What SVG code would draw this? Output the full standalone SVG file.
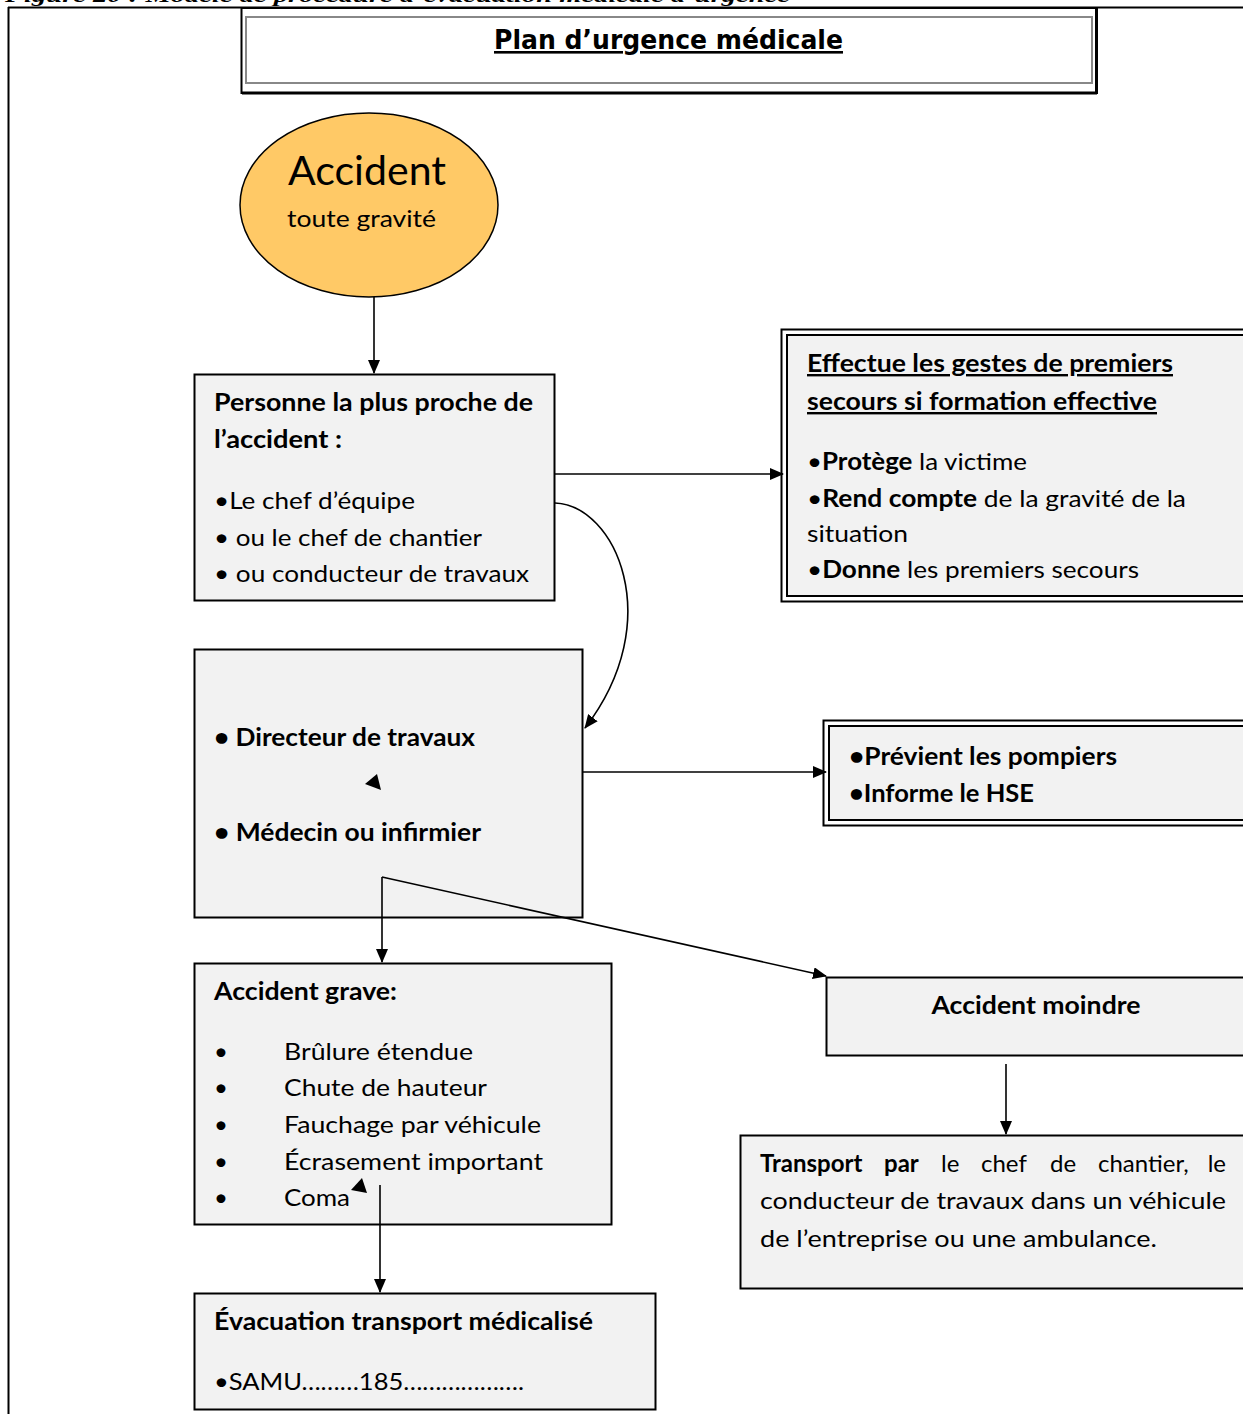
<svg xmlns="http://www.w3.org/2000/svg" width="1243" height="1414" viewBox="0 0 1243 1414">
<defs>
<style>
.t{font-family:Lato,"Open Sans","Liberation Sans",sans-serif;font-size:24px;fill:#000}
.b{font-weight:bold}
.box{fill:#f2f2f2;stroke:#000;stroke-width:2}
.ln{fill:none;stroke:#000;stroke-width:1.6}
</style>
<marker id="ah" markerWidth="14" markerHeight="12" refX="13" refY="6" orient="auto" markerUnits="userSpaceOnUse" viewBox="0 0 14 12">
<path d="M0,0 L14,6 L0,12 z" fill="#000"/>
</marker>
</defs>
<rect width="1243" height="1414" fill="#fff"/>
<text x="5" y="2" style="font-family:'Liberation Serif',serif;font-size:19px;font-weight:bold;font-style:italic" textLength="785" lengthAdjust="spacingAndGlyphs">Figure 20 : Modèle de procédure d’évacuation médicale d’urgence</text>
<g id="frame">
<line x1="8" y1="7.5" x2="1243" y2="7.5" stroke="#000" stroke-width="2"/>
<line x1="8.5" y1="7" x2="8.5" y2="1414" stroke="#000" stroke-width="2"/>
</g>
<g id="title">
<rect x="241.5" y="8" width="855" height="85" fill="#fff" stroke="#000" stroke-width="2"/>
<line x1="242" y1="93" x2="1097" y2="93" stroke="#000" stroke-width="3"/>
<line x1="1096.5" y1="8" x2="1096.5" y2="94" stroke="#000" stroke-width="3"/>
<rect x="246" y="17" width="846" height="66" fill="none" stroke="#888" stroke-width="2"/>
<text x="494" y="49" class="t b" style="font-family:'DejaVu Sans',sans-serif;font-size:26px;text-decoration:underline" textLength="349" lengthAdjust="spacingAndGlyphs">Plan d’urgence médicale</text>
</g>
<g id="accident">
<ellipse cx="369" cy="205" rx="129" ry="92" fill="#ffc966" stroke="#000" stroke-width="1.5"/>
<text x="288" y="185" class="t" style="font-size:40px" textLength="158" lengthAdjust="spacingAndGlyphs">Accident</text>
<text x="287" y="227" class="t" textLength="149" lengthAdjust="spacingAndGlyphs">toute gravité</text>
</g>
<g id="personne">
<rect class="box" x="194.5" y="374.5" width="360" height="226"/>
<text x="214" y="411" class="t b" textLength="319" lengthAdjust="spacingAndGlyphs">Personne la plus proche de</text>
<text x="214" y="448" class="t b" textLength="128" lengthAdjust="spacingAndGlyphs">l’accident :</text>
<text x="214" y="509" class="t" textLength="201" lengthAdjust="spacingAndGlyphs">•Le chef d’équipe</text>
<text x="214" y="546" class="t" textLength="268" lengthAdjust="spacingAndGlyphs">• ou le chef de chantier</text>
<text x="214" y="582" class="t" textLength="315" lengthAdjust="spacingAndGlyphs">• ou conducteur de travaux</text>
</g>
<g id="gestes">
<rect x="781.5" y="329.5" width="470" height="272" fill="#fff" stroke="#000" stroke-width="2"/>
<rect class="box" x="787" y="335" width="470" height="261"/>
<text x="807" y="372" class="t b" style="text-decoration:underline" textLength="366" lengthAdjust="spacingAndGlyphs">Effectue les gestes de premiers</text>
<text x="807" y="410" class="t b" style="text-decoration:underline" textLength="350" lengthAdjust="spacingAndGlyphs">secours si formation effective</text>
<text x="807" y="470" class="t" textLength="220" lengthAdjust="spacingAndGlyphs">•<tspan class="b">Protège</tspan> la victime</text>
<text x="807" y="507" class="t" textLength="379" lengthAdjust="spacingAndGlyphs">•<tspan class="b">Rend compte</tspan> de la gravité de la</text>
<text x="807" y="542" class="t" textLength="101" lengthAdjust="spacingAndGlyphs">situation</text>
<text x="807" y="578" class="t" textLength="332" lengthAdjust="spacingAndGlyphs">•<tspan class="b">Donne</tspan> les premiers secours</text>
</g>
<g id="directeur">
<rect class="box" x="194.5" y="649.5" width="388" height="268"/>
<text x="214" y="746" class="t b" textLength="261" lengthAdjust="spacingAndGlyphs">• Directeur de travaux</text>
<text x="214" y="841" class="t b" textLength="267" lengthAdjust="spacingAndGlyphs">• Médecin ou infirmier</text>
<polygon points="365,784 377,774 381,790" fill="#000"/>
</g>
<g id="pompiers">
<rect x="823.5" y="720.5" width="430" height="105" fill="#fff" stroke="#000" stroke-width="2"/>
<rect class="box" x="829" y="726" width="430" height="94"/>
<text x="849" y="765" class="t b" textLength="268" lengthAdjust="spacingAndGlyphs">•Prévient les pompiers</text>
<text x="849" y="802" class="t b" textLength="185" lengthAdjust="spacingAndGlyphs">•Informe le HSE</text>
</g>
<g id="grave">
<rect class="box" x="194.5" y="963.5" width="417" height="261"/>
<text x="214" y="1000" class="t b" textLength="183" lengthAdjust="spacingAndGlyphs">Accident grave:</text>
<g class="t">
<text x="214" y="1060">•</text><text x="284" y="1060" textLength="189" lengthAdjust="spacingAndGlyphs">Brûlure étendue</text>
<text x="214" y="1096">•</text><text x="284" y="1096" textLength="203" lengthAdjust="spacingAndGlyphs">Chute de hauteur</text>
<text x="214" y="1133">•</text><text x="284" y="1133" textLength="257" lengthAdjust="spacingAndGlyphs">Fauchage par véhicule</text>
<text x="214" y="1170">•</text><text x="284" y="1170" textLength="259" lengthAdjust="spacingAndGlyphs">Écrasement important</text>
<text x="214" y="1206">•</text><text x="284" y="1206" textLength="66" lengthAdjust="spacingAndGlyphs">Coma</text>
</g>
<polygon points="351,1190 362,1178 367,1193" fill="#000"/>
</g>
<g id="evacuation">
<rect class="box" x="194.5" y="1293.5" width="461" height="116"/>
<text x="214" y="1330" class="t b" textLength="379" lengthAdjust="spacingAndGlyphs">Évacuation transport médicalisé</text>
<text x="214" y="1390" class="t" textLength="310" lengthAdjust="spacingAndGlyphs">•SAMU………185……………….</text>
</g>
<g id="moindre">
<rect class="box" x="826.5" y="977.5" width="430" height="78"/>
<text x="1036" y="1014" class="t b" text-anchor="middle" textLength="209" lengthAdjust="spacingAndGlyphs">Accident moindre</text>
</g>
<g id="transport">
<rect class="box" x="740.5" y="1135.5" width="515" height="153"/>
<g class="t">
<text x="760" y="1172" class="b">Transport</text>
<text x="884" y="1172" class="b">par</text>
<text x="941" y="1172">le</text>
<text x="981" y="1172">chef</text>
<text x="1050" y="1172">de</text>
<text x="1098" y="1172">chantier,</text>
<text x="1226" y="1172" text-anchor="end">le</text>
</g>
<text x="760" y="1209" class="t" textLength="466" lengthAdjust="spacingAndGlyphs">conducteur de travaux dans un véhicule</text>
<text x="760" y="1247" class="t" textLength="397" lengthAdjust="spacingAndGlyphs">de l’entreprise ou une ambulance.</text>
</g>
<g id="connectors">
<line class="ln" x1="374" y1="297" x2="374" y2="373" marker-end="url(#ah)"/>
<line class="ln" x1="555" y1="474" x2="783" y2="474" marker-end="url(#ah)"/>
<path class="ln" d="M555,503 C615,505 668,620 585,728" marker-end="url(#ah)"/>
<line class="ln" x1="583" y1="772" x2="826" y2="772" marker-end="url(#ah)"/>
<line class="ln" x1="382" y1="877" x2="826" y2="976" marker-end="url(#ah)"/>
<line class="ln" x1="382" y1="877" x2="382" y2="962" marker-end="url(#ah)"/>
<line class="ln" x1="380" y1="1185" x2="380" y2="1292" marker-end="url(#ah)"/>
<line class="ln" x1="1006" y1="1064" x2="1006" y2="1134" marker-end="url(#ah)"/>
</g>
</svg>
